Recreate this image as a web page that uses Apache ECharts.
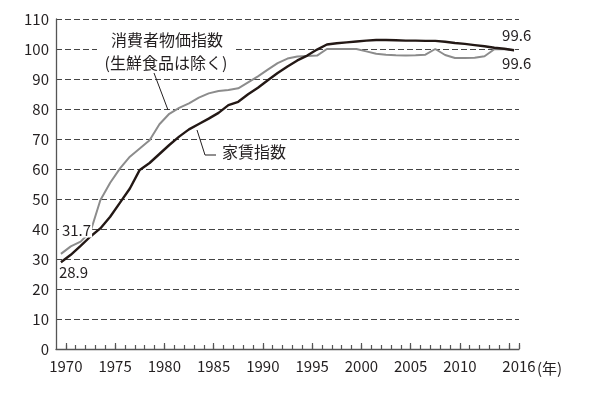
<!DOCTYPE html>
<html><head><meta charset="utf-8">
<script src="https://cdn.jsdelivr.net/npm/echarts@6/dist/echarts.min.js"></script>
<style>html,body{margin:0;padding:0;background:#fff}#c{width:600px;height:394px}</style>
</head><body><div id="c"></div>
<script>
// Data
const years = [1970,1971,1972,1973,1974,1975,1976,1977,1978,1979,
  1980,1981,1982,1983,1984,1985,1986,1987,1988,1989,
  1990,1991,1992,1993,1994,1995,1996,1997,1998,1999,
  2000,2001,2002,2003,2004,2005,2006,2007,2008,2009,
  2010,2011,2012,2013,2014,2015,2016];
// 消費者物価指数（生鮮食品を除く）
const cpi = [31.7,34.2,35.8,39.1,49.6,55.4,60.2,64.1,66.8,69.6,
  74.9,78.4,80.4,81.9,83.8,85.2,86.0,86.3,86.9,88.9,
  90.9,93.1,95.3,96.8,97.5,97.7,97.8,100.0,100.0,100.0,
  100.0,99.2,98.4,98.1,97.9,97.8,97.9,98.1,100.0,98.0,
  97.0,97.0,97.1,97.6,99.9,100.0,99.6];
// 家賃指数
const rent = [28.9,31.4,34.4,37.5,40.2,44.1,48.8,53.5,59.7,62.0,
  65.0,68.0,70.8,73.2,75.0,76.8,78.7,81.3,82.4,84.9,
  87.1,89.6,92.0,94.2,96.2,97.8,99.8,101.5,101.9,102.2,
  102.5,102.8,103.0,103.0,102.9,102.8,102.8,102.7,102.7,102.4,
  102.0,101.7,101.3,100.9,100.4,100.1,99.6];
const labelYears = [1970,1975,1980,1985,1990,1995,2000,2005,2010,2016];
const majorTickYears = [1970,1975,1980,1985,1990,1995,2000,2005,2010,2015,2016];

const FONT = '"Noto Sans CJK JP", "Noto Sans", sans-serif';
const TXT = '#231f20';
const chart = echarts.init(document.getElementById('c'));
const xBase = {
  type: 'value', min: 1969.5, max: 2016.5, gridIndex: 0, position: 'bottom', offset: 0,
  splitLine: {show: false}
};
chart.setOption({
  animation: false,
  textStyle: {fontFamily: FONT},
  grid: {left: 56, right: 81, top: 19, bottom: 45},
  xAxis: [
    Object.assign({}, xBase, {
      axisLine: {show: true, lineStyle: {color: '#555', width: 1.3}},
      axisTick: {show: true, inside: true, length: 6, customValues: majorTickYears.map(y => y + 0.5),
        lineStyle: {color: '#555', width: 1.2}},
      axisLabel: {show: true, customValues: labelYears.map(y => y + 0.5),
        formatter: v => String(Math.floor(v)), fontSize: 15, color: TXT, margin: 10, fontFamily: FONT}
    }),
    Object.assign({}, xBase, {
      axisLine: {show: false},
      axisTick: {show: true, inside: true, length: 4, customValues: years.map(y => y + 0.5),
        lineStyle: {color: '#555', width: 1.2}},
      axisLabel: {show: false}
    })
  ],
  yAxis: {
    type: 'value', min: 0, max: 110, interval: 10,
    axisLine: {show: true, lineStyle: {color: '#555', width: 1.3}},
    axisTick: {show: false},
    axisLabel: {fontSize: 15, color: TXT, margin: 7, fontFamily: FONT},
    splitLine: {show: true, lineStyle: {type: [6, 3], color: '#444', width: 1}}
  },
  series: [
    {
      name: '消費者物価指数（生鮮食品は除く）', type: 'line', xAxisIndex: 0,
      data: years.map((y, i) => [y, cpi[i]]),
      symbol: 'none', lineStyle: {color: '#8c8c8c', width: 2}, z: 3,
      markPoint: {
        symbol: 'circle', symbolSize: 1, itemStyle: {color: 'rgba(0,0,0,0)'},
        label: {show: true, position: 'inside', align: 'left', verticalAlign: 'middle',
          fontSize: 15, color: TXT, fontFamily: FONT, formatter: p => Number(p.value).toFixed(1)},
        data: [
          {coord: [years[0], cpi[0]], value: cpi[0],
            label: {offset: [-2, -24], backgroundColor: '#fff', padding: [0, 1, 0, 3]}},
          {coord: [years[years.length - 1], cpi[cpi.length - 1]], value: cpi[cpi.length - 1],
            label: {offset: [-12, 13]}}
        ]
      }
    },
    {
      name: '家賃指数', type: 'line', xAxisIndex: 0,
      data: years.map((y, i) => [y, rent[i]]),
      symbol: 'none', lineStyle: {color: '#231815', width: 2.4}, z: 4,
      markPoint: {
        symbol: 'circle', symbolSize: 1, itemStyle: {color: 'rgba(0,0,0,0)'},
        label: {show: true, position: 'inside', align: 'left', verticalAlign: 'middle',
          fontSize: 15, color: TXT, fontFamily: FONT, formatter: p => Number(p.value).toFixed(1)},
        data: [
          {coord: [years[0], rent[0]], value: rent[0], label: {offset: [-2, 10]}},
          {coord: [years[years.length - 1], rent[rent.length - 1]], value: rent[rent.length - 1],
            label: {offset: [-12, -15]}}
        ]
      }
    }
  ],
  graphic: [
    {type: 'rect', z: 10, shape: {x: 97, y: 28, width: 138, height: 45}, style: {fill: '#fff'}},
    {type: 'text', z: 11, x: 167, y: 39.5, style: {text: '消費者物価指数', font: '16px ' + FONT, fill: TXT, textAlign: 'center', textVerticalAlign: 'middle'}},
    {type: 'text', z: 11, x: 166, y: 62.5, style: {text: '(生鮮食品は除く)', font: '16px ' + FONT, fill: TXT, textAlign: 'center', textVerticalAlign: 'middle'}},
    {type: 'polyline', z: 11, shape: {points: [[154, 73], [168, 110]]}, style: {stroke: TXT, lineWidth: 1, fill: null}},
    {type: 'text', z: 11, x: 222, y: 152, style: {text: '家賃指数', font: '16px ' + FONT, fill: TXT, textAlign: 'left', textVerticalAlign: 'middle'}},
    {type: 'polyline', z: 11, shape: {points: [[197, 130], [205, 155], [216, 155]]}, style: {stroke: TXT, lineWidth: 1, fill: null}},
    {type: 'text', z: 11, x: 537, y: 368, style: {text: '(年)', font: '15px ' + FONT, fill: TXT, textAlign: 'left', textVerticalAlign: 'middle'}}
  ]
});
</script></body></html>
